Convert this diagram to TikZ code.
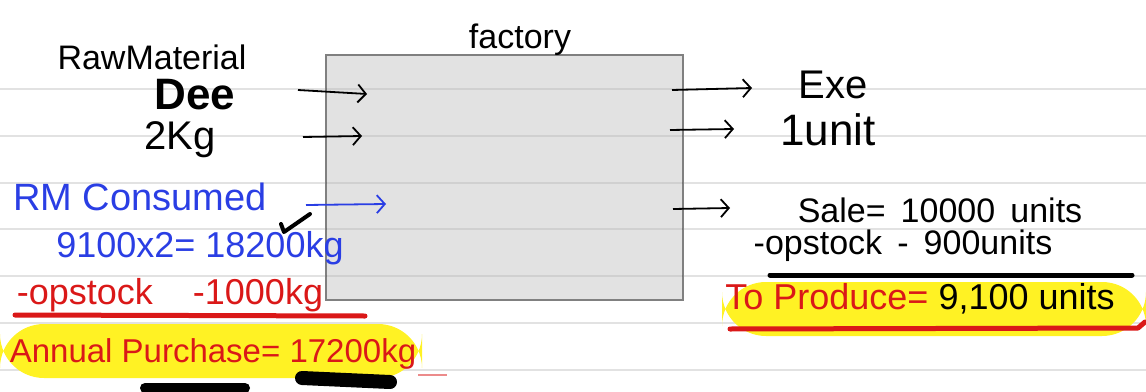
\documentclass[tikz,border=0pt]{standalone}
\usepackage{fontspec}
\setmainfont{Liberation Sans}
\usetikzlibrary{arrows.meta}
\definecolor{inkblue}{RGB}{42,62,228}
\definecolor{inkred}{RGB}{218,24,24}
\definecolor{hilite}{RGB}{255,242,36}
\definecolor{boxgray}{RGB}{226,226,226}
\definecolor{rulegray}{RGB}{226,226,226}

\begin{document}
\begin{tikzpicture}[x=0.5pt,y=-0.5pt,
  hand/.style={font=\fontsize{17}{19}\selectfont, inner sep=0pt},
  flow/.style={-{Straight Barb[length=4pt,width=9pt]}, line width=0.9pt},
  pen/.style={line width=#1, line cap=round, line join=round}]
  \useasboundingbox (0,0) rectangle (1146,391);
  % ruled paper
  \foreach \y in {89,136,183,229,276,323,370}
    \draw[rulegray, line width=1pt] (0,\y) -- (1146,\y);
  % highlighter
  \fill[hilite, rounded corners=22] (0,324) rectangle (422,378);
  \fill[hilite, rounded corners=22] (722,282) rectangle (1146,336);
  % factory box
  \draw[fill=boxgray, draw=gray, line width=1pt] (326,55) rectangle (683,300);
  \foreach \y in {89,136,183,229,276}
    \draw[black, opacity=.08, line width=1pt] (326,\y) -- (683,\y);
  \node[hand] (factory) at (520,40) {factory};

  % input side
  \node[hand] (rawmat) at (152,57) {RawMaterial};
  \node[hand, font=\fontsize{22}{24}\selectfont\bfseries] (dee) at (195,95) {Dee};
  \node[hand, font=\fontsize{20}{22}\selectfont] (twokg) at (180,140) {2Kg};
  \coordinate (in1s) at (298,90);  \coordinate (in1e) at (367,94);
  \coordinate (in2s) at (303,137); \coordinate (in2e) at (362,136);
  \draw[flow] (in1s) -- (in1e);
  \draw[flow] (in2s) -- (in2e);

  \node[hand, text=inkblue, font=\fontsize{19}{21}\selectfont] (rmcons) at (140,197) {RM Consumed};
  \coordinate (rms) at (306,205); \coordinate (rme) at (386,204);
  \draw[flow, inkblue] (rms) -- (rme);
  \node[hand, text=inkblue, font=\fontsize{18}{20}\selectfont] (rmcalc) at (200,248) {9100x2= 18200kg};
  \draw[pen=2pt] (281,224) -- (284,232) -- (310,214);
  \node[hand, text=inkred, font=\fontsize{18}{20}\selectfont] (rmstock) at (170,295) {-opstock \ \ \ -1000kg};
  \draw[inkred, pen=2.5pt] (15,315) -- (365,316);
  \node[hand, text=inkred, font=\fontsize{16.5}{19}\selectfont] (purchase) at (213,354) {Annual Purchase= 17200kg};
  \draw[inkred!50, line width=1pt] (418,375) -- (447,375);
  \draw[pen=5pt] (145,388) -- (245,388);
  \draw[pen=7pt] (302,378) -- (390,382);

  % output side
  \coordinate (out1s) at (672,90);  \coordinate (out1e) at (752,88);
  \coordinate (out2s) at (670,130); \coordinate (out2e) at (734,129);
  \coordinate (out3s) at (673,209); \coordinate (out3e) at (730,208);
  \draw[flow] (out1s) -- (out1e);
  \draw[flow] (out2s) -- (out2e);
  \draw[flow] (out3s) -- (out3e);
  \node[hand, font=\fontsize{20}{22}\selectfont] (exe) at (833,85) {Exe};
  \node[hand, font=\fontsize{22}{24}\selectfont] (unit) at (828,130) {1unit};
  \node[hand, font=\fontsize{17}{19}\selectfont] (sale) at (940,210) {Sale= \,10000 \,units};
  \node[hand, font=\fontsize{17}{19}\selectfont] (fgstock) at (903,246) {-opstock \,- \,900units};
  \draw[pen=2.5pt] (770,275) -- (1132,275);
  \node[hand, font=\fontsize{18}{20}\selectfont] (produce) at (920,299)
    {\textcolor{inkred}{To Produce=} 9,100 units};
  \draw[inkred, pen=2.5pt] (730,329) -- (1138,328) -- (1145,322);
\end{tikzpicture}
\end{document}
